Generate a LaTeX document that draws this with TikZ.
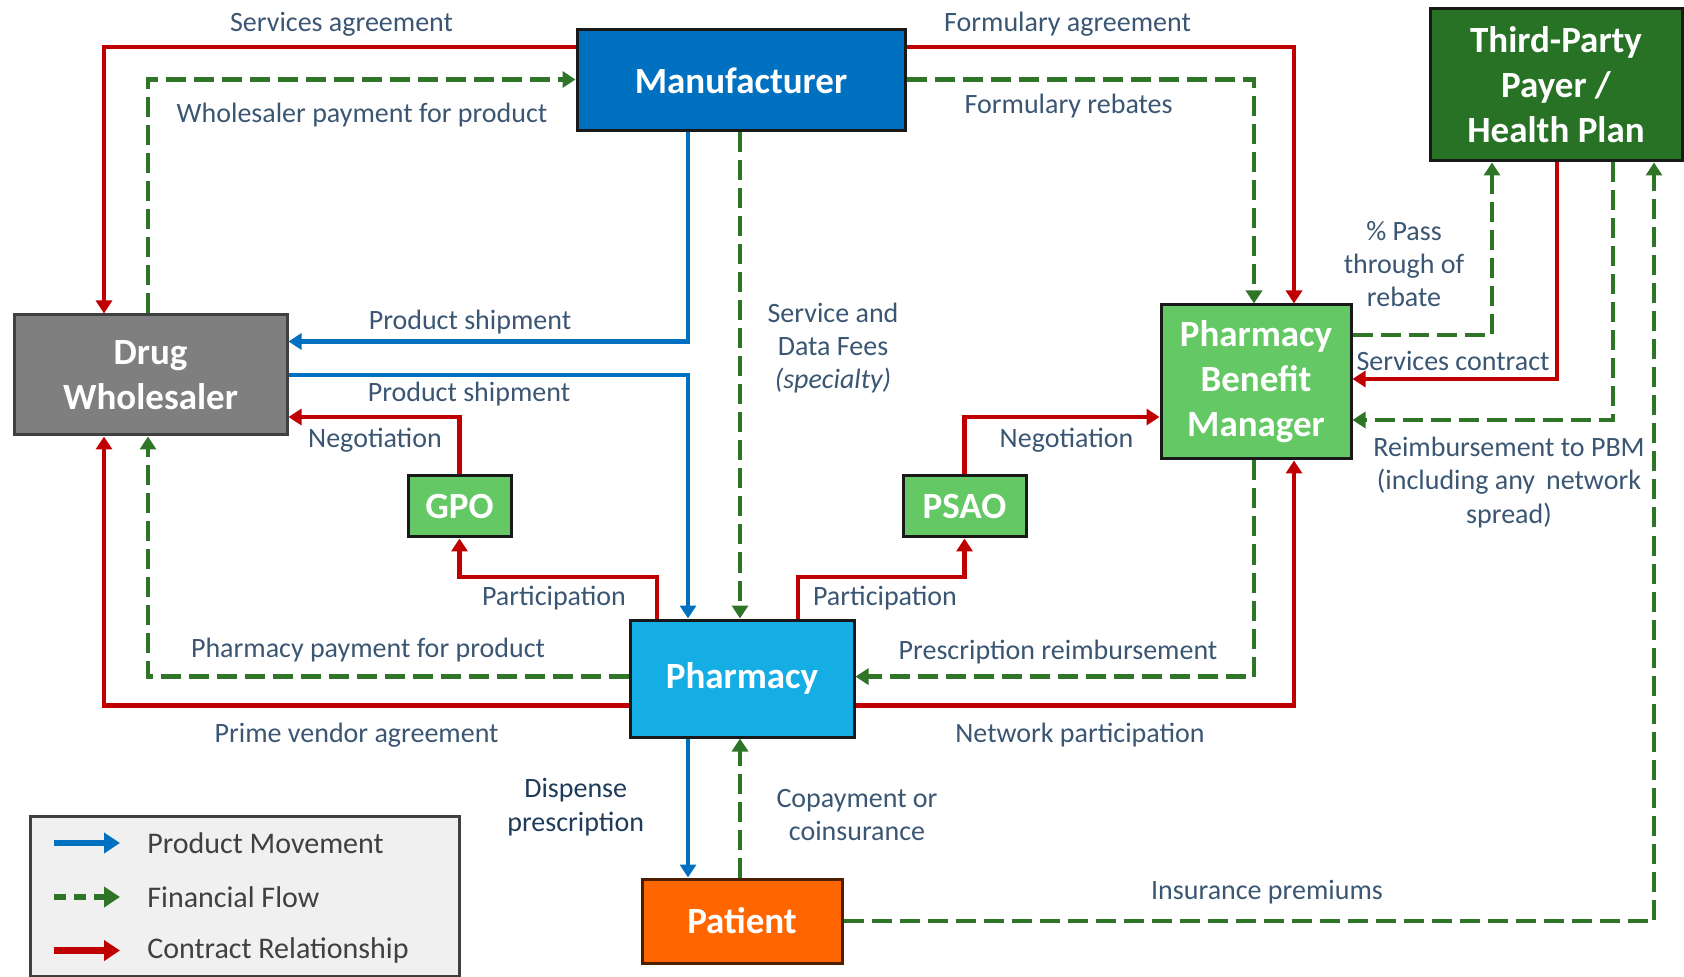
\documentclass[tikz,border=0pt]{standalone}
\usepackage{fontspec}
\setmainfont{Carlito}
\usepackage{tikz}
\usetikzlibrary{arrows.meta}

\definecolor{mfrblue}{RGB}{0,112,192}
\definecolor{whlgrey}{RGB}{127,127,127}
\definecolor{tppgreen}{RGB}{40,114,38}
\definecolor{litegreen}{RGB}{100,200,100}
\definecolor{phacyan}{RGB}{20,174,228}
\definecolor{patorange}{RGB}{255,102,0}
\definecolor{linered}{RGB}{192,0,0}
\definecolor{lineblue}{RGB}{0,112,192}
\definecolor{linegreen}{RGB}{47,117,40}
\definecolor{lbltext}{RGB}{58,86,115}
\definecolor{lbldark}{RGB}{31,59,90}
\definecolor{legtext}{RGB}{64,64,64}
\definecolor{legfill}{RGB}{240,240,240}

\begin{document}
\begin{tikzpicture}[x=0.5pt,y=-0.5pt,
	tip/.style={-{Triangle[length=6.5pt,width=8pt]}},
	bigtip/.style={-{Triangle[length=8pt,width=10pt]}},
	product/.style={draw=lineblue,line width=2.3pt,tip},
	finance/.style={draw=linegreen,line width=2.3pt,dash pattern=on 10pt off 4pt,tip},
	contract/.style={draw=linered,line width=2.3pt,tip}]
	\useasboundingbox (0,0) rectangle (1684,977);

	\begin{scope}[every node/.style={draw=black!90,line width=1.5pt,text=white,align=center,inner sep=0pt,
	              font=\fontsize{18.5}{22.5}\selectfont\bfseries}]
	    \node[fill=mfrblue,minimum width=164pt,minimum height=50.5pt] (man) at (741,80.5) {Manufacturer};
	    \node[fill=whlgrey,draw=black!75,minimum width=136.5pt,minimum height=60pt] (whl) at (150.5,375) {Drug\\Wholesaler};
	    \node[fill=tppgreen,minimum width=126pt,minimum height=76pt] (tpp) at (1556,85) {Third-Party\\Payer /\\Health Plan};
	    \node[fill=litegreen,minimum width=95pt,minimum height=77pt] (pbm) at (1256,382) {Pharmacy\\Benefit\\Manager};
	    \node[fill=litegreen,minimum width=51.5pt,minimum height=30.5pt] (gpo) at (459.5,506.5) {GPO};
	    \node[fill=litegreen,minimum width=61.5pt,minimum height=30.5pt] (psao) at (964.5,506.5) {PSAO};
	    \node[fill=phacyan,minimum width=112pt,minimum height=58.5pt] (pha) at (742,678.5) {Pharmacy};
	    \node[fill=patorange,draw=black!70!patorange,minimum width=100pt,minimum height=42pt] (pat) at (742,921) {Patient};
	\end{scope}

	\draw[contract] (man.west |- 0,47) -| (104,0 |- whl.north);
	\draw[finance] (148,0 |- whl.north) |- (man.west |- 0,79.5);
	\draw[contract] (man.east |- 0,47) -| (1294,0 |- pbm.north);
	\draw[finance] (man.east |- 0,79.5) -| (1254,0 |- pbm.north);
	\draw[product] (688,0 |- man.south) |- (whl.east |- 0,341.5);
	\draw[product] (whl.east |- 0,375) -| (688,0 |- pha.north);
	\draw[finance] (740,0 |- man.south) -- (740,0 |- pha.north);
	\draw[contract] (gpo.north) |- (whl.east |- 0,417);
	\draw[contract] (657,0 |- pha.north) -- (657,577) -| (gpo.south);
	\draw[contract] (798,0 |- pha.north) -- (798,577) -| (psao.south);
	\draw[contract] (psao.north) |- (pbm.west |- 0,417);
	\draw[finance] (pha.west |- 0,676.6) -| (148,0 |- whl.south);
	\draw[contract] (pha.west |- 0,705.6) -| (104,0 |- whl.south);
	\draw[finance] (1254,0 |- pbm.south) |- (pha.east |- 0,676.6);
	\draw[contract] (pha.east |- 0,705.6) -| (1294,0 |- pbm.south);
	\draw[product] (688,0 |- pha.south) -- (688,0 |- pat.north);
	\draw[finance] (740,0 |- pat.north) -- (740,0 |- pha.south);
	\draw[finance] (pat.east) -| (1654,0 |- tpp.south);
	\draw[finance] (pbm.east |- 0,335) -| (1492,0 |- tpp.south);
	\draw[contract] (1557,0 |- tpp.south) |- (pbm.east |- 0,379);
	\draw[finance] (1613,0 |- tpp.south) |- (pbm.east |- 0,420);

	\begin{scope}[every node/.style={text=lbltext,align=center,inner sep=0pt,
	              font=\fontsize{14}{16.7}\selectfont}]
	    \node (svcagr) at (341.5,24) {Services agreement};
	    \node (whlpay) at (362,115.5) {Wholesaler payment for product};
	    \node (frmagr) at (1067.5,24) {Formulary agreement};
	    \node (frmreb) at (1068.6,106.5) {Formulary rebates};
	    \node (ship1) at (470,322.5) {Product shipment};
	    \node (ship2) at (469,394.5) {Product shipment};
	    \node (fees) at (833,348) {Service and\\Data Fees\\\itshape(specialty)};
	    \node (neg1) at (375,440.5) {Negotiation};
	    \node (neg2) at (1066.5,440.5) {Negotiation};
	    \node (part1) at (554,598.5) {Participation};
	    \node (part2) at (885,598.5) {Participation};
	    \node (phapay) at (368,650) {Pharmacy payment for product};
	    \node (prime) at (356.6,735) {Prime vendor agreement};
	    \node (rxreimb) at (1058,652.5) {Prescription reimbursement};
	    \node (netpart) at (1080,735) {Network participation};
	    \node[text=lbldark] (disp) at (575.7,807) {Dispense\\prescription};
	    \node (copay) at (857,815) {Copayment or\\coinsurance};
	    \node (prem) at (1267,892.5) {Insurance premiums};
	    \node (pass) at (1404,264) {\% Pass\\through of\\rebate};
	    \node (svccon) at (1453,361) {Services contract};
	    \node (pbmreimb) at (1509,482.5) {Reimbursement to PBM\\(including any\, network\\spread)};
	\end{scope}

	\node[draw=legtext,fill=legfill,line width=1.5pt,minimum width=214.5pt,minimum height=80pt] (leg) at (244.5,896) {};
	\begin{scope}[every node/.style={text=legtext,anchor=west,inner sep=0pt,font=\fontsize{15}{18}\selectfont}]
	    \node (lt1) at (147,843) {Product Movement};
	    \node (lt2) at (147,897) {Financial Flow};
	    \node (lt3) at (147,950.5) {Contract Relationship};
	\end{scope}
	\draw[product,line width=3.2pt,bigtip] ([xshift=-46.5pt]lt1.west) -- ([xshift=-13.5pt]lt1.west);
	\draw[finance,line width=3.2pt,bigtip,dash pattern=on 6pt off 4pt] ([xshift=-46.5pt]lt2.west) -- ([xshift=-13.5pt]lt2.west);
	\draw[contract,line width=3.2pt,bigtip] ([xshift=-46.5pt]lt3.west) -- ([xshift=-13.5pt]lt3.west);
\end{tikzpicture}
\end{document}
